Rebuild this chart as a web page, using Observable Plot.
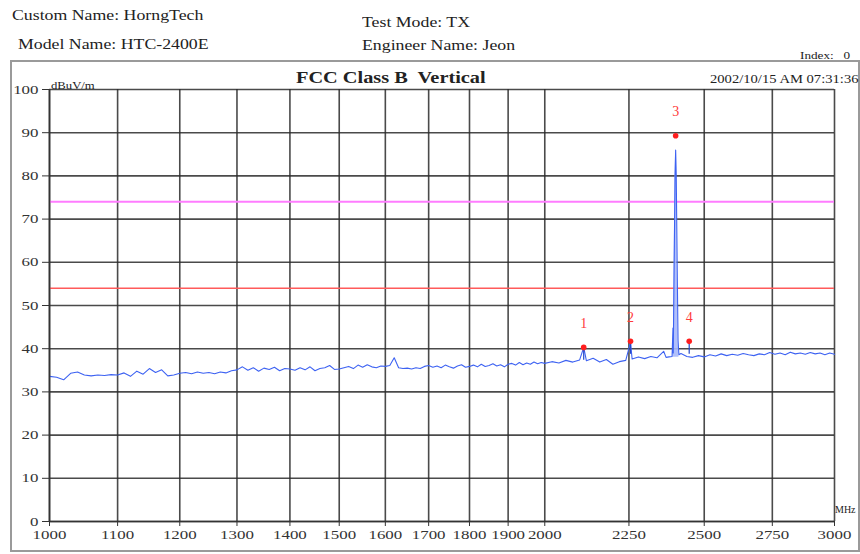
<!DOCTYPE html>
<html>
<head>
<meta charset="utf-8">
<script src="https://cdn.jsdelivr.net/npm/d3@7"></script>
<script src="https://cdn.jsdelivr.net/npm/@observablehq/plot@0.6"></script>
<style>
  html, body { margin: 0; padding: 0; background: #fff; }
  #wrap { position: relative; width: 860px; height: 554px; overflow: hidden; font-family: "Liberation Serif", "DejaVu Serif", serif; color: #222; }
  #wrap svg { position: absolute; left: 0; top: 0; }
  .t { position: absolute; white-space: pre; line-height: 1; transform: scaleX(1.27); transform-origin: 0 0; }
  #box { position: absolute; left: 10px; top: 60px; width: 846px; height: 488px; border: 2px solid #9a9a9a; }
</style>
</head>
<body>
<div id="wrap">
  <div id="box"></div>
</div>
<script>
// ---- data ----
const headerLeft = ["Custom Name: HorngTech", "Model Name: HTC-2400E"];
const headerRight = ["Test Mode: TX", "Engineer Name: Jeon"];
const indexLabel = "Index:   0";
const chartTitle = "FCC Class B  Vertical";
const timestamp = "2002/10/15 AM 07:31:36";
const yUnit = "dBuV/m";
const xUnit = "MHz";

const xTicks = [1000, 1100, 1200, 1300, 1400, 1500, 1600, 1700, 1800, 1900, 2000, 2250, 2500, 2750, 3000];
const yTicks = [0, 10, 20, 30, 40, 50, 60, 70, 80, 90, 100];

const limitLevels = [74, 54];

const traceFreqLow = [1000,1010,1020,1030,1040,1050,1060,1070,1080,1090,
  1100,1110,1120,1130,1140,1150,1160,1170,1180,1190,
  1200,1210,1220,1230,1240,1250,1260,1270,1280,1290,
  1300,1310,1320,1330,1340,1350,1360,1370,1380,1390,
  1400,1410,1420,1430,1440,1450,1460,1470,1480,1490,
  1500,1510,1520,1530,1540,1550,1560,1570,1580,1590,
  1600,1610,1620,1630,1640,1650,1660,1670,1680,1690,
  1700,1710,1720,1730,1740,1750,1760,1770,1780,1790,
  1800,1810,1820,1830,1840,1850,1860,1870,1880,1890,
  1900,1910,1920,1930,1940,1950,1960,1970,1980,1990,2000];
const traceLevelLow = [33.6,33.4,32.8,34.3,34.6,33.9,33.7,33.9,33.8,34.0,
  33.9,34.4,33.6,34.8,34.1,35.4,34.5,35.1,33.7,33.9,
  34.3,34.5,34.2,34.6,34.3,34.5,34.2,34.6,34.4,34.9,
  35.1,35.8,35.0,35.6,34.8,35.5,35.2,35.7,34.9,35.4,
  35.3,35.0,35.6,35.1,35.8,34.9,35.4,35.6,36.1,35.2,
  35.3,35.6,35.9,35.4,36.2,35.7,36.3,35.8,35.6,36.0,
  35.9,36.1,37.9,35.6,35.4,35.5,35.3,35.6,35.4,35.9,
  36.1,35.7,36.0,35.6,36.2,35.8,35.5,36.0,36.3,35.7,
  35.9,36.2,35.8,36.4,35.9,36.1,36.5,36.0,36.3,35.8,
  36.4,36.6,36.2,36.8,36.3,36.7,36.4,36.9,36.5,36.8,36.6];

const traceFreqHigh = [2020,2040,2060,2080,2100,2112,2120,2140,2160,2180,
  2200,2220,2240,2255,2260,2280,2300,2320,2340,2362,
  2370,2380,2390,2393,2394,2397,2400,2402,2404,2407,
  2410,2413,2420,2440,2460,2480,2500,2520,2540,2560,
  2580,2600,2620,2640,2660,2680,2700,2720,2740,2760,
  2780,2800,2820,2840,2860,2880,2900,2920,2940,2960,2980,3000];
const traceLevelHigh = [37.0,36.7,37.3,36.9,37.4,40.3,37.2,37.8,36.9,37.5,
  36.4,37.0,37.3,41.5,37.6,38.1,37.7,38.2,37.9,39.4,
  38.0,38.1,38.2,44.8,39.0,60.0,80.0,86.0,80.0,60.0,
  42.0,38.6,38.9,38.2,38.0,38.4,38.1,38.6,38.3,38.8,
  38.4,38.7,38.5,38.9,38.6,38.4,38.8,38.6,39.1,38.7,
  39.0,38.6,39.2,38.8,39.0,38.7,39.1,38.8,39.0,38.6,39.0,38.7];

const markerFreq = [2112, 2255, 2402, 2448];
const markerLevel = [40.3, 41.7, 89.3, 41.7];
const markerLabel = ["1", "2", "3", "4"];

// ---- build tables ----
const trace = traceFreqLow.map((f, i) => ({f, v: traceLevelLow[i]}))
  .concat(traceFreqHigh.map((f, i) => ({f, v: traceLevelHigh[i]})));
const markers = markerFreq.map((f, i) => ({f, v: markerLevel[i], label: markerLabel[i]}));
const peak = trace.filter(d => d.f >= 2393 && d.f <= 2413);

const gridStyle = {stroke: "#2a2a2a", strokeOpacity: 0.85, strokeWidth: 1.6};

const chart = Plot.plot({
  width: 860,
  height: 554,
  marginLeft: 49,
  marginRight: 26,
  marginTop: 89,
  marginBottom: 33,
  style: {fontFamily: "'Liberation Serif', 'DejaVu Serif', serif", fontSize: "13px", color: "#333", background: "transparent", overflow: "visible"},
  x: {type: "log", domain: [1000, 3000]},
  y: {domain: [0, 100]},
  marks: [
    Plot.gridX(xTicks, gridStyle),
    Plot.gridY(yTicks, gridStyle),
    Plot.ruleY(limitLevels.slice(0, 1), {stroke: "#ff7cff", strokeWidth: 2}),
    Plot.ruleY(limitLevels.slice(1, 2), {stroke: "#ff5a5a", strokeWidth: 1.5}),
    Plot.areaY(peak, {x: "f", y1: 38, y2: "v", fill: "#a9b9fb", fillOpacity: 0.9}),
    Plot.line(trace, {x: "f", y: "v", stroke: "#3d62f2", strokeWidth: 1.1}),
    Plot.ruleX(markers, {x: "f", y1: d => d.v - 3, y2: "v", stroke: "#2447c8", strokeWidth: 1.2, filter: d => d.v < 60}),
    Plot.dot(markers, {x: "f", y: "v", r: 2.8, fill: "#ff1e1e", stroke: "none"}),
    Plot.text(markers, {x: "f", y: "v", text: "label", dy: -24, fill: "#ff3b3b", fontSize: 14}),
    Plot.axisX(xTicks, {tickFormat: d => String(d), tickSize: 5, tickPadding: 3, fontSize: 13, label: null, stroke: "#333", className: "tickx"}),
    Plot.axisY(yTicks, {tickSize: 7, tickPadding: 4, fontSize: 13, label: null, stroke: "#333", className: "ticky"}),
    Plot.ruleX([1000], {stroke: "#333", strokeWidth: 1.6}),
    Plot.ruleY([0], {stroke: "#333", strokeWidth: 1.6})
  ]
});
const wrap = document.getElementById("wrap");
wrap.appendChild(chart);

// widen the tick labels to match the stretched raster look of the source
d3.select(chart).selectAll(".tickx text, .ticky text").each(function () {
  const t = this.getAttribute("transform") || "";
  this.setAttribute("transform", t + " scale(1.3,1)");
});

function addText(txt, left, top, size, extra) {
  const d = document.createElement("div");
  d.className = "t";
  d.textContent = txt;
  d.style.left = left + "px";
  d.style.top = top + "px";
  d.style.fontSize = size + "px";
  if (extra) Object.assign(d.style, extra);
  wrap.appendChild(d);
}
addText(headerLeft[0], 12, 9, 14);
addText(headerLeft[1], 18, 38, 14);
addText(headerRight[0], 362, 16, 14);
addText(headerRight[1], 362, 39, 14);
addText(indexLabel, 800, 50, 11, {transform: "scaleX(1.2)"});
addText(chartTitle, 296, 70, 16, {fontWeight: "bold"});
addText(timestamp, 710, 74, 11.5);
addText(yUnit, 51, 81, 10);
addText(xUnit, 835, 505, 10, {transform: "none"});
</script>
</body>
</html>
